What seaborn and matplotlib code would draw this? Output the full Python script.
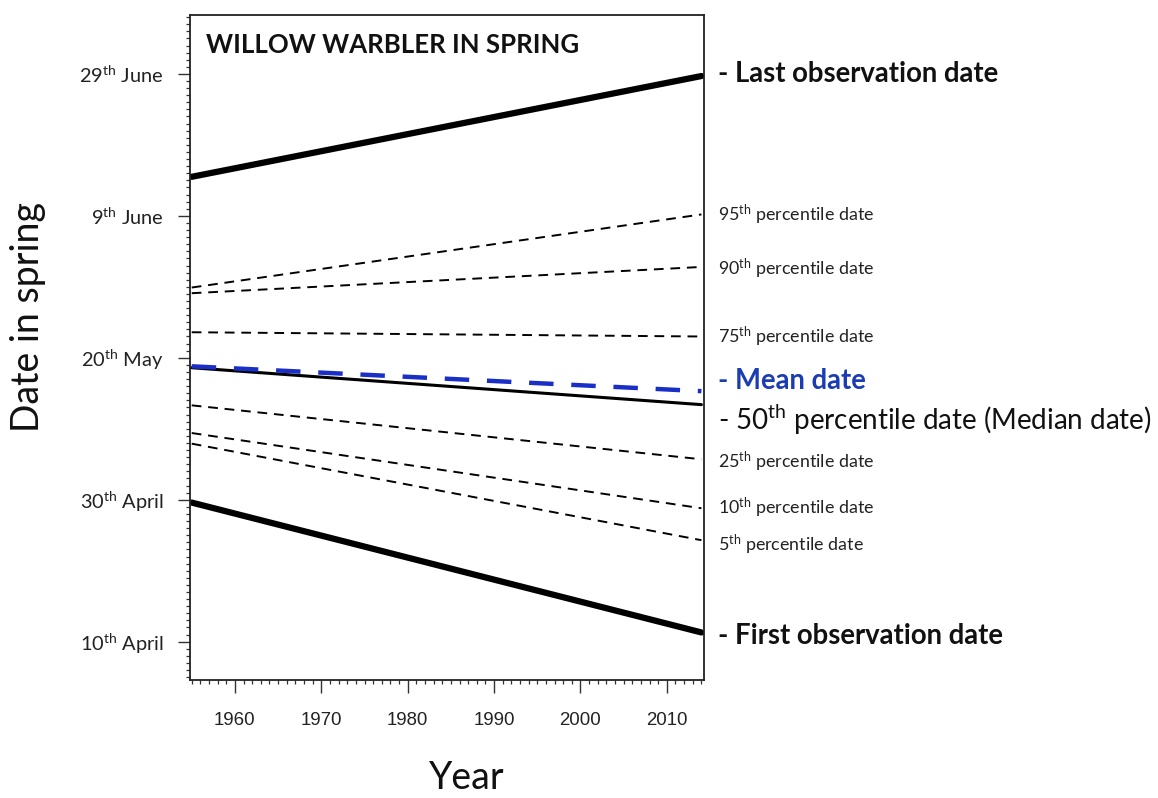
import numpy as np
import pandas as pd
import matplotlib
matplotlib.use('Agg')
import matplotlib.pyplot as plt
import seaborn as sns
from matplotlib.ticker import MultipleLocator

# 연도 (회귀선 시작/끝)
years = [1955, 2014]

# 봄철 날짜 (1월 1일 기준 일수, 10 April = 100)
last_obs = [165.5, 179.7]
p95 = [149.9, 160.2]
p90 = [149.1, 152.8]
p75 = [143.6, 143.0]
mean_date = [138.8, 135.3]
median = [138.6, 133.4]
p25 = [133.3, 125.7]
p10 = [129.4, 118.8]
p5 = [127.9, 114.3]
first_obs = [119.6, 101.3]

xtick_vals = [1960, 1970, 1980, 1990, 2000, 2010]
ytick_vals = [100, 120, 140, 160, 180]
ytick_labels = [r'10$^{\mathrm{th}}$ April', r'30$^{\mathrm{th}}$ April', r'20$^{\mathrm{th}}$ May',
                r'9$^{\mathrm{th}}$ June', r'29$^{\mathrm{th}}$ June']

sns.set_style('white')
plt.rcParams['font.family'] = ['Lato', 'DejaVu Sans']
plt.rcParams['mathtext.fontset'] = 'custom'
plt.rcParams['mathtext.rm'] = 'Lato'
plt.rcParams['mathtext.it'] = 'Lato:italic'
plt.rcParams['mathtext.bf'] = 'Lato:bold'

fig = plt.figure(figsize=(11.58, 7.98), dpi=100)
ax = fig.add_axes([190 / 1158, 1 - 680 / 798, (704 - 190) / 1158, (680 - 15) / 798])

# 선 그리기
thick = dict(color='black', linewidth=4.5)
dash = dict(color='black', linewidth=1.4, linestyle=(0, (5, 3.5)))
sns.lineplot(x=years, y=last_obs, ax=ax, **thick)
sns.lineplot(x=years, y=first_obs, ax=ax, **thick)
for s in [p95, p90, p75, p25, p10, p5]:
    sns.lineplot(x=years, y=s, ax=ax, **dash)
sns.lineplot(x=years, y=median, ax=ax, color='black', linewidth=2.2)
sns.lineplot(x=years, y=mean_date, ax=ax, color='#1a2fc8', linewidth=3.2, linestyle=(0, (5.5, 4)))

ax.set_xlim(1954.8, 2014.3)
ax.set_ylim(94.6, 188.3)

ax.set_xticks(xtick_vals)
ax.set_xticklabels([str(v) for v in xtick_vals], fontfamily='Liberation Sans', fontsize=13.4, color='#222222')
ax.xaxis.set_minor_locator(MultipleLocator(1))
ax.set_yticks(ytick_vals)
ax.set_yticklabels(ytick_labels, fontsize=14.4, color='#222222')
ax.yaxis.set_minor_locator(MultipleLocator(1))
ax.tick_params(axis='both', which='both', bottom=True, left=True, top=False, right=False)
ax.tick_params(axis='both', which='major', direction='out', length=9, width=1, color='#333333')
ax.tick_params(axis='both', which='minor', direction='out', length=3, width=0.9, color='#333333')
ax.tick_params(axis='x', which='major', pad=14)
ax.tick_params(axis='y', which='major', pad=10)
for sp in ax.spines.values():
    sp.set_color('#222222')
    sp.set_linewidth(1.3)

ax.set_xlabel('')
ax.set_ylabel('')
fig.text(28 / 1158, 1 - 317 / 798, 'Date in spring', rotation=90, fontsize=27,
         ha='center', va='center', color='#111111')
fig.text(467 / 1158, 1 - 778 / 798, 'Year', fontsize=27, ha='center', va='center', color='#111111')

ax.text(0.032, 0.955, 'WILLOW WARBLER IN SPRING', transform=ax.transAxes, fontsize=18.5,
        fontweight='bold', ha='left', va='center', color='#111111')

# 오른쪽 라벨
tr = ax.get_yaxis_transform()
xl = 1.027
big = dict(fontsize=19.8, fontweight='bold', color='#111111', ha='left', va='center', transform=tr)
small = dict(fontsize=12.9, color='#222222', ha='left', va='center', transform=tr)
ax.text(xl, 180.0, '- Last observation date', clip_on=False, **big)
ax.text(xl, 100.8, '- First observation date', clip_on=False, **big)
ax.text(xl, 136.7, '- Mean date', clip_on=False, **dict(big, color='#1a3cb4'))
ax.text(xl, 131.3, r'- 50$^{\mathrm{th}}$ percentile date (Median date)', clip_on=False,
        fontsize=20, color='#111111', ha='left', va='center', transform=tr)
for v, n in [(160.1, '95'), (152.5, '90'), (143.0, '75'), (125.4, '25'), (118.8, '10'), (113.7, '5')]:
    ax.text(xl, v, n + r'$^{\mathrm{th}}$ percentile date', clip_on=False, **small)

fig.savefig('out.png', dpi=100)
